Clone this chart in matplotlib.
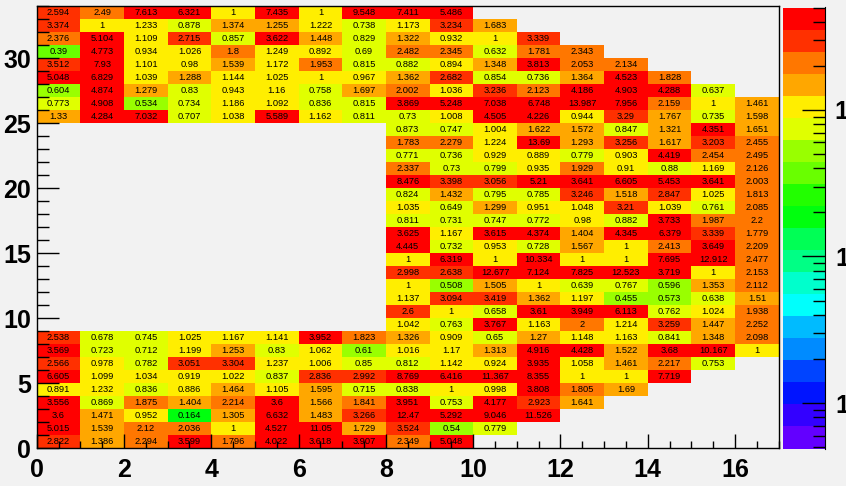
import colorsys
import numpy as np
import matplotlib
matplotlib.use("Agg")
import matplotlib.pyplot as plt
from matplotlib.colors import ListedColormap, BoundaryNorm
from matplotlib.ticker import MultipleLocator, FixedLocator, NullFormatter

# cell values, one list per y-bin (bottom row first), starting at column first_col[y]
first_col = [0] * 9 + [8] * 16 + [0] * 9
rows = [
    [2.822, 1.386, 2.294, 3.599, 1.796, 4.022, 3.618, 3.907, 2.349, 5.048],
    [5.015, 1.539, 2.12, 2.036, 1, 4.527, 11.05, 1.729, 3.524, 0.54, 0.779],
    [3.6, 1.471, 0.952, 0.164, 1.305, 6.632, 1.483, 3.266, 12.47, 5.292, 9.046, 11.526],
    [3.556, 0.869, 1.875, 1.404, 2.214, 3.6, 1.566, 1.841, 3.951, 0.753, 4.177, 2.923, 1.641],
    [0.891, 1.232, 0.836, 0.886, 1.464, 1.105, 1.595, 0.715, 0.838, 1, 0.998, 3.808, 1.805, 1.69],
    [6.605, 1.099, 1.034, 0.919, 1.022, 0.837, 2.836, 2.992, 8.769, 6.416, 11.367, 8.355, 1, 1, 7.719],
    [2.566, 0.978, 0.782, 3.051, 3.304, 1.237, 1.006, 0.85, 0.812, 1.142, 0.924, 3.935, 1.058, 1.461, 2.217, 0.753],
    [3.569, 0.723, 0.712, 1.199, 1.253, 0.83, 1.062, 0.61, 1.016, 1.17, 1.313, 4.916, 4.428, 1.522, 3.68, 10.167, 1],
    [2.538, 0.678, 0.745, 1.025, 1.167, 1.141, 3.952, 1.823, 1.326, 0.909, 0.65, 1.27, 1.148, 1.163, 0.841, 1.348, 2.098],
    [1.042, 0.763, 3.767, 1.163, 2, 1.214, 3.259, 1.447, 2.252],
    [2.6, 1, 0.658, 3.61, 3.949, 6.113, 0.762, 1.024, 1.938],
    [1.137, 3.094, 3.419, 1.362, 1.197, 0.455, 0.573, 0.638, 1.51],
    [1, 0.508, 1.505, 1, 0.639, 0.767, 0.596, 1.353, 2.112],
    [2.998, 2.638, 12.677, 7.124, 7.825, 12.523, 3.719, 1, 2.153],
    [1, 6.319, 1, 10.334, 1, 1, 7.695, 12.912, 2.477],
    [4.445, 0.732, 0.953, 0.728, 1.567, 1, 2.413, 3.649, 2.209],
    [3.625, 1.167, 3.615, 4.374, 1.404, 4.345, 6.379, 3.339, 1.779],
    [0.811, 0.731, 0.747, 0.772, 0.98, 0.882, 3.733, 1.987, 2.2],
    [1.035, 0.649, 1.299, 0.951, 1.048, 3.21, 1.039, 0.761, 2.085],
    [0.824, 1.432, 0.795, 0.785, 3.246, 1.518, 2.847, 1.025, 1.813],
    [8.476, 3.398, 3.056, 5.21, 3.641, 6.605, 5.453, 3.641, 2.003],
    [2.337, 0.73, 0.799, 0.935, 1.929, 0.91, 0.88, 1.169, 2.126],
    [0.771, 0.736, 0.929, 0.889, 0.779, 0.903, 4.419, 2.454, 2.495],
    [1.783, 2.279, 1.224, 13.69, 1.293, 3.256, 1.617, 3.203, 2.455],
    [0.873, 0.747, 1.004, 1.622, 1.572, 0.847, 1.321, 4.351, 1.651],
    [1.33, 4.284, 7.032, 0.707, 1.038, 5.589, 1.162, 0.811, 0.73, 1.008, 4.505, 4.226, 0.944, 3.29, 1.767, 0.735, 1.598],
    [0.773, 4.908, 0.534, 0.734, 1.186, 1.092, 0.836, 0.815, 3.869, 5.248, 7.038, 6.748, 13.987, 7.956, 2.159, 1, 1.461],
    [0.604, 4.874, 1.279, 0.83, 0.943, 1.16, 0.758, 1.697, 2.002, 1.036, 3.236, 2.123, 4.186, 4.903, 4.288, 0.637],
    [5.048, 6.829, 1.039, 1.288, 1.144, 1.025, 1, 0.967, 1.362, 2.682, 0.854, 0.736, 1.364, 4.523, 1.828],
    [3.512, 7.93, 1.101, 0.98, 1.539, 1.172, 1.953, 0.815, 0.882, 0.894, 1.348, 3.813, 2.053, 2.134],
    [0.39, 4.773, 0.934, 1.026, 1.8, 1.249, 0.892, 0.69, 2.482, 2.345, 0.632, 1.781, 2.343],
    [2.376, 5.104, 1.109, 2.715, 0.857, 3.622, 1.448, 0.829, 1.322, 0.932, 1, 3.339],
    [3.374, 1, 1.233, 0.878, 1.374, 1.255, 1.222, 0.738, 1.173, 3.234, 1.683],
    [2.594, 2.49, 7.613, 6.321, 1, 7.435, 1, 9.548, 7.411, 5.486],
]
n_x, n_y = 17, 34
zmin, zmax = 10 ** -2.3105, 10 ** 0.6995
n_levels = 20

# ROOT "pretty" palette (50 colours, violet -> red), sampled for 20 contours
def pretty_colour(k):
    i = int((k + 0.99) * 50 / n_levels)
    hue = 0.0 if i >= 49 else 280 - (i + 1) * 5.6
    return colorsys.hls_to_rgb(hue / 360.0, 0.5, 1.0)

colours = [pretty_colour(k) for k in range(n_levels)]
cmap = ListedColormap(colours)
bounds = 10 ** np.linspace(np.log10(zmin), np.log10(zmax), n_levels + 1)
norm = BoundaryNorm(bounds, n_levels, clip=True)

Z = np.full((n_y, n_x), np.nan)
for y, vals in enumerate(rows):
    for j, v in enumerate(vals):
        Z[y, first_col[y] + j] = v

bg = "#f2f2f2"
font = "Liberation Sans"
fig = plt.figure(figsize=(8.46, 4.86), dpi=100, facecolor=bg)
ax = fig.add_axes([36.7 / 846, 37.8 / 486, 742 / 846, 442 / 486])
ax.set_facecolor(bg)
ax.pcolormesh(np.arange(n_x + 1), np.arange(n_y + 1), np.ma.masked_invalid(Z),
              cmap=cmap, norm=norm)

for y in range(n_y):
    for x in range(n_x):
        if not np.isnan(Z[y, x]):
            ax.text(x + 0.5, y + 0.5, f"{Z[y, x]:g}", ha="center", va="center",
                    fontsize=6.7, color="black", family=font)

ax.set_xlim(0, n_x)
ax.set_ylim(0, n_y)
ax.xaxis.set_major_locator(MultipleLocator(2))
ax.xaxis.set_minor_locator(MultipleLocator(0.5))
ax.yaxis.set_major_locator(MultipleLocator(5))
ax.yaxis.set_minor_locator(MultipleLocator(1))
ax.tick_params(axis="x", which="major", direction="in", length=10, width=1, pad=7)
ax.tick_params(axis="x", which="minor", direction="in", length=5, width=1)
ax.tick_params(axis="y", which="major", direction="in", length=16, width=1, pad=4)
ax.tick_params(axis="y", which="minor", direction="in", length=8.5, width=1)
for lab in ax.get_xticklabels() + ax.get_yticklabels():
    lab.set_fontfamily(font)
    lab.set_fontweight("bold")
    lab.set_fontsize(18)
for s in ax.spines.values():
    s.set_color("black")
    s.set_linewidth(1)

# colour bar (log z)
cax = fig.add_axes([783 / 846, 37.5 / 486, 42 / 846, 441 / 486])
cax.set_facecolor(bg)
cax.set_yscale("log")
cax.pcolormesh([0, 1], bounds, np.sqrt(bounds[:-1] * bounds[1:]).reshape(-1, 1),
               cmap=cmap, norm=norm)
cax.set_xlim(0, 1)
cax.set_ylim(zmin, zmax)
cax.set_xticks([])
cax.yaxis.tick_right()
cax.yaxis.set_major_locator(FixedLocator([0.01, 0.1, 1]))
cax.yaxis.set_minor_locator(FixedLocator(
    [m * d for d in (0.001, 0.01, 0.1, 1) for m in range(2, 10)]))
cax.yaxis.set_minor_formatter(NullFormatter())
cax.set_yticklabels(["10$^{-2}$", "10$^{-1}$", "1"])
cax.tick_params(axis="y", which="major", direction="in", length=16.5, width=1, pad=7)
cax.tick_params(axis="y", which="minor", direction="in", length=8.5, width=1)
for lab in cax.get_yticklabels():
    lab.set_fontfamily(font)
    lab.set_fontweight("bold")
    lab.set_fontsize(18)
for side in ("left", "top", "bottom"):
    cax.spines[side].set_visible(False)
cax.spines["right"].set_color("black")

fig.savefig("out.png", dpi=100, facecolor=bg)
